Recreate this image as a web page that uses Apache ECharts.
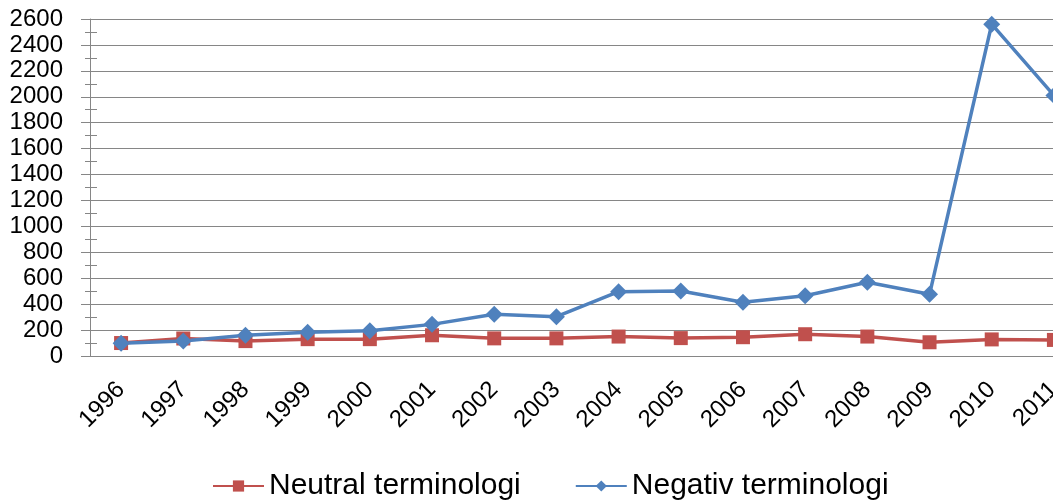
<!DOCTYPE html>
<html>
<head>
<meta charset="utf-8">
<script src="https://cdn.jsdelivr.net/npm/echarts@6/dist/echarts.min.js"></script>
<style>
    html, body {margin: 0; padding: 0; background: #fff;}
    #chart {width: 1053px; height: 501px;}
</style>
</head>
<body>
<div id="chart"></div>
<script>
var years = ['1996', '1997', '1998', '1999', '2000', '2001', '2002', '2003',
    '2004', '2005', '2006', '2007', '2008', '2009', '2010', '2011'];
var neutral = [100, 135, 115, 130, 130, 160, 136, 136, 150, 138, 145, 168, 150, 106, 128, 124];
var negativ = [98, 116, 160, 183, 195, 244, 322, 303, 496, 501, 414, 465, 569, 476, 2560, 2010];
var yTicks = {min: 0, max: 2600, interval: 200};

~function () {
    var myChart = echarts.init(document.getElementById('chart'));
    var gray = '#868686';
    var font = "'Liberation Sans', Arial, sans-serif";
    var option = {
        animation: false,
        grid: {left: 90, top: 19, bottom: 145, width: 995, outerBoundsMode: 'none'},
        legend: {
            left: 207,
            top: 466,
            itemWidth: 51,
            itemHeight: 14,
            itemGap: 54,
            textStyle: {fontSize: 30, color: '#000', fontFamily: font},
            data: ['Neutral terminologi', 'Negativ terminologi']
        },
        xAxis: [
            {
                type: 'category',
                boundaryGap: true,
                data: years,
                axisLine: {lineStyle: {color: gray}},
                axisTick: {length: 9, lineStyle: {color: gray}},
                axisLabel: {
                    rotate: 45,
                    margin: 30,
                    fontSize: 24,
                    color: '#000',
                    fontFamily: font
                }
            }
        ],
        yAxis: [
            {
                type: 'value',
                min: yTicks.min,
                max: yTicks.max,
                interval: yTicks.interval,
                axisLine: {show: true, lineStyle: {color: gray}},
                axisTick: {show: true, length: 9, lineStyle: {color: gray}},
                minorTick: {show: true, splitNumber: 2, length: 5, lineStyle: {color: gray}},
                splitLine: {lineStyle: {color: gray, width: 1}},
                axisLabel: {
                    margin: 27,
                    fontSize: 24,
                    color: '#000',
                    fontFamily: font,
                    formatter: function (v) { return String(v); }
                }
            },
            {
                // only draws the inner half of the minor ticks
                type: 'value',
                position: 'left',
                min: yTicks.min,
                max: yTicks.max,
                interval: yTicks.interval,
                axisLine: {show: false},
                axisTick: {show: false, inside: true},
                minorTick: {show: true, splitNumber: 2, length: 7, lineStyle: {color: gray}},
                splitLine: {show: false},
                axisLabel: {show: false}
            }
        ],
        series: [
            {
                name: 'Neutral terminologi',
                type: 'line',
                data: neutral,
                symbol: 'rect',
                symbolSize: 14,
                lineStyle: {width: 3.5, color: '#C0504D'},
                itemStyle: {color: '#C0504D'}
            },
            {
                name: 'Negativ terminologi',
                type: 'line',
                data: negativ,
                symbol: 'diamond',
                symbolSize: 17,
                lineStyle: {width: 3.5, color: '#4F81BD'},
                itemStyle: {color: '#4F81BD'}
            }
        ]
    };
    myChart.setOption(option);
}();
</script>
</body>
</html>
